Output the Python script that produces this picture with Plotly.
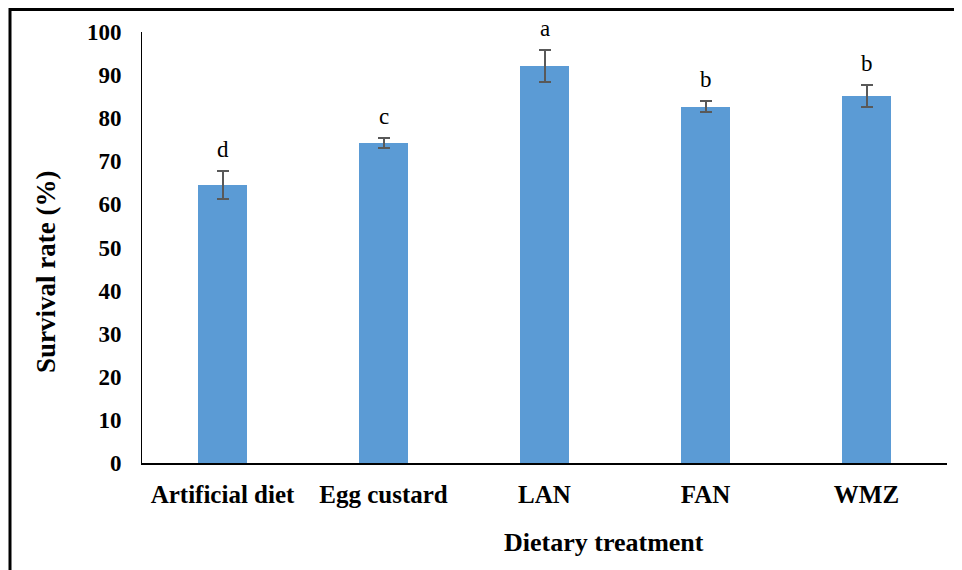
import plotly.graph_objects as go

categories = ["Artificial diet", "Egg custard", "LAN", "FAN", "WMZ"]
survival = [64.5, 74.3, 92.2, 82.7, 85.2]
errors = [3.3, 1.2, 3.7, 1.3, 2.6]
letters = ["d", "c", "a", "b", "b"]
y_ticks = [0, 10, 20, 30, 40, 50, 60, 70, 80, 90, 100]

# page body has an 8px margin, so the figure starts at (8, 8) on screen
OFF = 8
W, H = 962 - OFF, 570 - OFF
L, T = 142 - OFF, 32 - OFF
pw, ph = 805, 431
R, B = W - L - pw, H - T - ph

def px(sx):
    return (sx - OFF - L) / pw

def py(sy):
    return (T + ph - (sy - OFF)) / ph

FONT = "Liberation Serif, Times New Roman, serif"

fig = go.Figure()
fig.add_trace(go.Bar(
    x=categories, y=survival, width=0.31,
    marker=dict(color="#5B9BD5", line=dict(width=0)),
    error_y=dict(type="data", array=errors, visible=True,
                 color="#595959", thickness=2, width=6),
))

for c, v, e, t in zip(categories, survival, errors, letters):
    fig.add_annotation(x=c, y=v + e, text=t, showarrow=False,
                       yanchor="bottom", yshift=7,
                       font=dict(family=FONT, size=23, color="black"))

fig.add_annotation(xref="paper", yref="paper", x=px(604), y=py(542),
                   text="<b>Dietary treatment</b>", showarrow=False,
                   xanchor="center", yanchor="middle",
                   font=dict(family=FONT, size=26, color="black"))
fig.add_annotation(xref="paper", yref="paper", x=px(46), y=py(272),
                   text="<b>Survival rate (%)</b>", showarrow=False, textangle=-90,
                   xanchor="center", yanchor="middle",
                   font=dict(family=FONT, size=27, color="black"))

fig.add_shape(type="rect", xref="paper", yref="paper",
              x0=px(10), x1=px(985), y0=py(600), y1=py(9.5),
              line=dict(color="black", width=3), fillcolor="rgba(0,0,0,0)")

fig.update_layout(
    width=W, height=H,
    margin=dict(l=L, r=R, t=T, b=B),
    paper_bgcolor="white", plot_bgcolor="white",
    showlegend=False, bargap=0,
    font=dict(family=FONT, color="black"),
)
fig.update_xaxes(
    range=[-0.5, 4.5], showline=True, linecolor="black", linewidth=2,
    ticks="", showgrid=False, zeroline=False,
    tickfont=dict(family=FONT, size=25, color="black"),
    ticklabelstandoff=8,
    tickvals=categories, ticktext=[f"<b>{c}</b>" for c in categories],
)
fig.update_yaxes(
    range=[0, 100], showline=True, linecolor="black", linewidth=1,
    ticks="", showgrid=False, zeroline=False,
    tickvals=y_ticks, ticktext=[f"<b>{v}</b>" for v in y_ticks],
    tickfont=dict(family=FONT, size=23, color="black"),
    ticklabelstandoff=15,
)

fig.write_html("out.html")
